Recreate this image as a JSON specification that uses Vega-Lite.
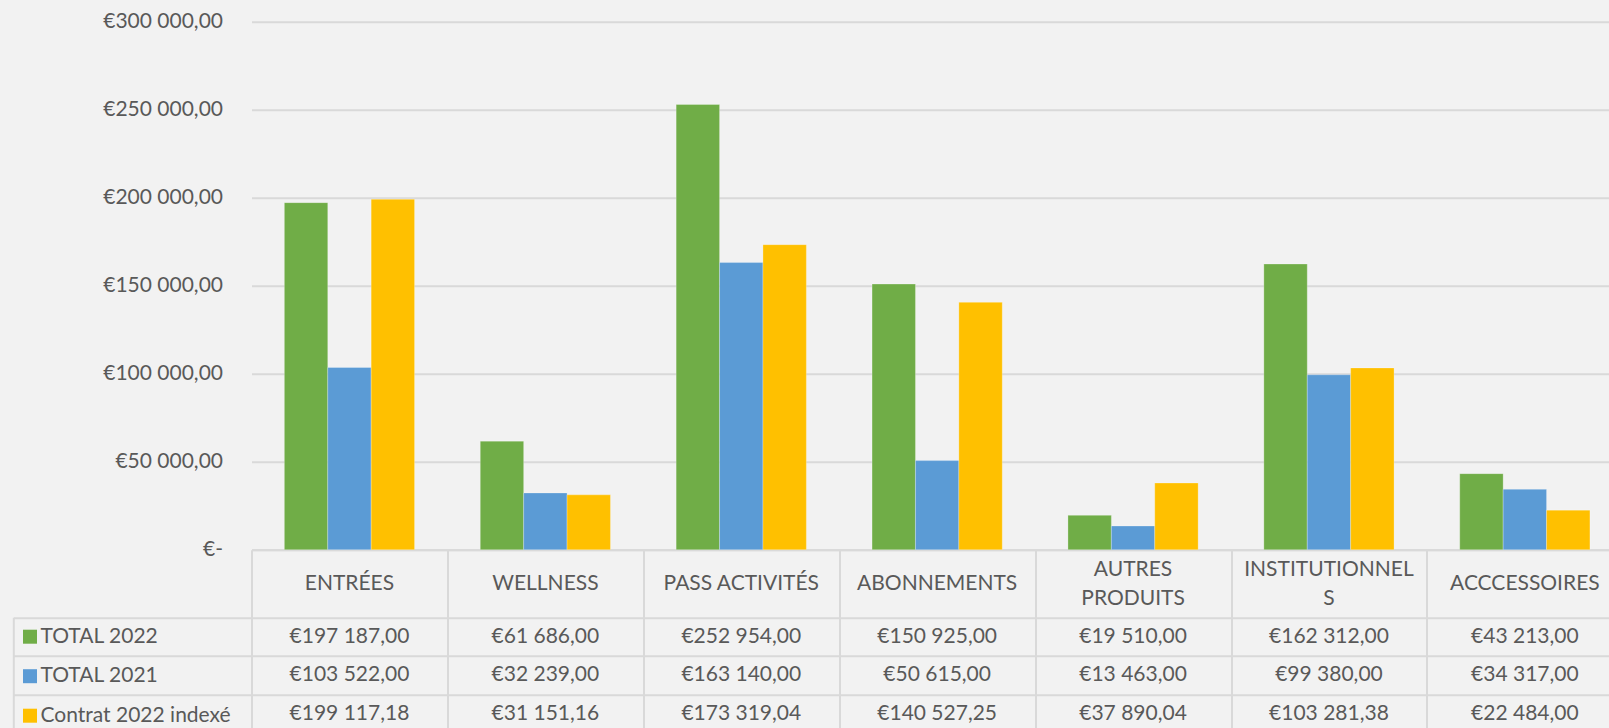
{
  "$schema": "https://vega.github.io/schema/vega-lite/v6.json",
  "autosize": {"type": "none"},
  "padding": {"left": 251.5, "top": 21.7, "right": 0, "bottom": 178.3},
  "width": 1357.5,
  "height": 528,
  "background": "#f2f2f2",
  "config": {
    "view": {"stroke": null},
    "font": "Lato",
    "locale": {"number": {"decimal": ",", "thousands": " ", "grouping": [3], "currency": ["€", ""]}},
    "axis": {"labelFont": "Lato", "labelColor": "#595959", "labelFontSize": 21},
    "legend": {"labelFont": "Lato", "labelColor": "#595959", "labelFontSize": 21}
  },
  "data": {"values": [
    {"category": "ENTRÉES", "series": "TOTAL 2022", "value": 197187.00},
    {"category": "ENTRÉES", "series": "TOTAL 2021", "value": 103522.00},
    {"category": "ENTRÉES", "series": "Contrat 2022 indexé", "value": 199117.18},
    {"category": "WELLNESS", "series": "TOTAL 2022", "value": 61686.00},
    {"category": "WELLNESS", "series": "TOTAL 2021", "value": 32239.00},
    {"category": "WELLNESS", "series": "Contrat 2022 indexé", "value": 31151.16},
    {"category": "PASS ACTIVITÉS", "series": "TOTAL 2022", "value": 252954.00},
    {"category": "PASS ACTIVITÉS", "series": "TOTAL 2021", "value": 163140.00},
    {"category": "PASS ACTIVITÉS", "series": "Contrat 2022 indexé", "value": 173319.04},
    {"category": "ABONNEMENTS", "series": "TOTAL 2022", "value": 150925.00},
    {"category": "ABONNEMENTS", "series": "TOTAL 2021", "value": 50615.00},
    {"category": "ABONNEMENTS", "series": "Contrat 2022 indexé", "value": 140527.25},
    {"category": "AUTRES PRODUITS", "series": "TOTAL 2022", "value": 19510.00},
    {"category": "AUTRES PRODUITS", "series": "TOTAL 2021", "value": 13463.00},
    {"category": "AUTRES PRODUITS", "series": "Contrat 2022 indexé", "value": 37890.04},
    {"category": "INSTITUTIONNELS", "series": "TOTAL 2022", "value": 162312.00},
    {"category": "INSTITUTIONNELS", "series": "TOTAL 2021", "value": 99380.00},
    {"category": "INSTITUTIONNELS", "series": "Contrat 2022 indexé", "value": 103281.38},
    {"category": "ACCCESSOIRES", "series": "TOTAL 2022", "value": 43213.00},
    {"category": "ACCCESSOIRES", "series": "TOTAL 2021", "value": 34317.00},
    {"category": "ACCCESSOIRES", "series": "Contrat 2022 indexé", "value": 22484.00}
  ]},
  "layer": [
    {
      "mark": {"type": "bar", "stroke": "#ffffff", "strokeOpacity": 0.25, "strokeWidth": 1},
      "encoding": {
        "x": {
          "field": "category", "type": "nominal", "sort": null,
          "scale": {"paddingInner": 0.3354, "paddingOuter": 0.1325, "align": 0.633},
          "axis": {
            "orient": "bottom", "title": null, "domain": false, "ticks": false, "grid": false,
            "labelAngle": 0, "labelBaseline": "middle", "labelLineHeight": 29.6, "labelLimit": 0,
            "labelPadding": {"condition": {"test": "datum.value == 'AUTRES PRODUITS' || datum.value == 'INSTITUTIONNELS'", "value": 19.4}, "value": 34},
            "labelExpr": "datum.value == 'AUTRES PRODUITS' ? ['AUTRES', 'PRODUITS'] : datum.value == 'INSTITUTIONNELS' ? ['INSTITUTIONNEL', 'S'] : datum.value"
          }
        },
        "xOffset": {
          "field": "series", "type": "nominal",
          "sort": ["TOTAL 2022", "TOTAL 2021", "Contrat 2022 indexé"],
          "scale": {"paddingInner": 0, "paddingOuter": 0}
        },
        "y": {
          "field": "value", "type": "quantitative",
          "scale": {"domain": [0, 300000], "nice": false},
          "axis": {
            "title": null, "values": [0, 50000, 100000, 150000, 200000, 250000, 300000],
            "domain": false, "ticks": false, "labelPadding": 29, "labelLimit": 0,
            "gridColor": "#d9d9d9", "gridWidth": 2,
            "labelExpr": "datum.value == 0 ? '€-' : format(datum.value, '$,.2f')"
          }
        },
        "color": {
          "field": "series", "type": "nominal",
          "scale": {"domain": ["TOTAL 2022", "TOTAL 2021", "Contrat 2022 indexé"], "range": ["#70ad47", "#5b9bd5", "#ffc000"]},
          "legend": {
            "orient": "none", "legendX": -232, "legendY": 604.5, "title": null,
            "symbolType": "square", "symbolSize": 196, "symbolStrokeWidth": 0,
            "labelOffset": 0, "rowPadding": 17.5, "padding": 0, "labelLimit": 0
          }
        }
      }
    },
    {
      "mark": {"type": "text", "fontSize": 21, "color": "#595959", "font": "Lato", "baseline": "middle"},
      "encoding": {
        "x": {
          "field": "category", "type": "nominal", "sort": null,
          "scale": {"type": "band", "paddingInner": 0, "paddingOuter": 0, "range": [0, 1371.3]},
          "axis": {
            "orient": "bottom", "title": null, "labels": false, "grid": false,
            "domain": true, "domainColor": "#d9d9d9", "domainWidth": 2,
            "ticks": true, "tickBand": "extent", "tickSize": 185, "tickColor": "#d9d9d9", "tickWidth": 2
          }
        },
        "y": {
          "field": "series", "type": "nominal",
          "sort": ["TOTAL 2022", "TOTAL 2021", "Contrat 2022 indexé"],
          "scale": {"type": "band", "paddingInner": 0, "paddingOuter": 0, "range": [595.6, 711.1]},
          "axis": {
            "orient": "left", "title": null, "labels": false, "offset": 238.2,
            "domain": true, "domainColor": "#d9d9d9", "domainWidth": 2,
            "ticks": true, "tickBand": "extent", "tickSize": -238.2, "tickColor": "#d9d9d9", "tickWidth": 2,
            "grid": true, "gridColor": "#d9d9d9", "gridWidth": 2
          }
        },
        "text": {"field": "value", "type": "quantitative", "format": "$,.2f"}
      }
    }
  ],
  "resolve": {
    "scale": {"x": "independent", "y": "independent"},
    "axis": {"x": "independent", "y": "independent"}
  }
}
